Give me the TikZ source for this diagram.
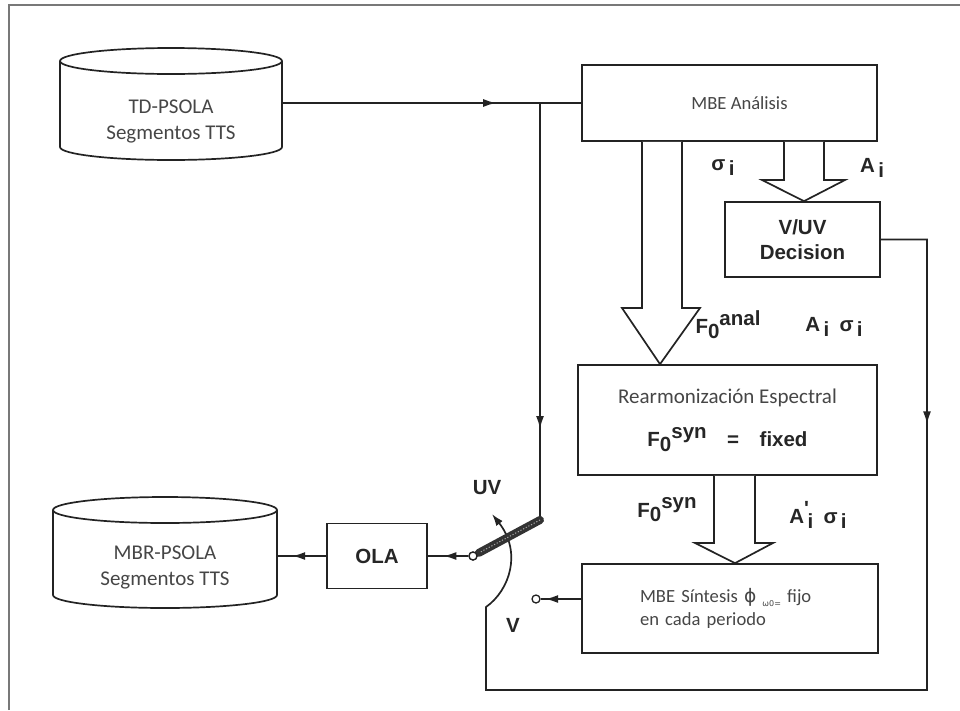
\documentclass[tikz,border=0pt]{standalone}
\usepackage{fontspec}
\setmainfont{Carlito}
\newfontfamily\labf{Liberation Sans}
\newfontfamily\symf{DejaVu Sans}
\usetikzlibrary{positioning,arrows.meta,calc,decorations.markings}
\definecolor{lnGray}{RGB}{35,35,35}
\definecolor{txGray}{RGB}{70,70,70}
\definecolor{frGray}{RGB}{120,120,120}
\newcommand{\lo}[1]{\raisebox{-0.45ex}{#1}}
\newcommand{\hi}[1]{\raisebox{0.75ex}{#1}}
% cylinder: centre x, x radius, top y, bottom y, y radius
\newcommand{\dbcyl}[5]{%
  \draw[wire] (#1,#3) ellipse[x radius=#2pt, y radius=#5pt];
  \draw[wire] (#1-#2,#3) -- (#1-#2,#4) arc[start angle=180, end angle=360, x radius=#2pt, y radius=#5pt] -- (#1+#2,#3);
}

\begin{document}
\begin{tikzpicture}[
    x=1pt, y=-1pt,
    wire/.style={draw=lnGray, line width=1.7pt},
    box/.style={rectangle, draw=lnGray, line width=1.7pt, fill=white, text=txGray, inner sep=2pt},
    dbtext/.style={text=txGray, align=center, font=\fontsize{21}{26}\selectfont},
    lab/.style={font=\labf\bfseries\fontsize{20.5}{23}\selectfont, text=black!85, inner sep=1pt},
    hollow/.style={draw=lnGray, line width=1.7pt, fill=white, line join=miter},
    pin/.style={circle, draw=lnGray, line width=1.3pt, fill=white, inner sep=0pt, minimum size=8pt},
    midarrow/.style={postaction={decorate}, decoration={markings, mark=at position #1 with {\arrow{Latex[length=13pt,width=8pt]}}}}
]
  \useasboundingbox (0,0) rectangle (960,710);
  \draw[draw=frGray, line width=2pt] (9,710) -- (9,5) -- (960,5);

  % data bases
  \dbcyl{171}{111}{61}{147}{13}
  \dbcyl{165}{112}{510}{595}{13}
  \node[dbtext, minimum width=222pt] (tdp) at (171,121) {TD-PSOLA\\Segmentos TTS};
  \node[dbtext, minimum width=224pt] (mbr) at (165,567) {MBR-PSOLA\\Segmentos TTS};

  % blocks
  \node[box, minimum width=295pt, minimum height=76pt, font=\fontsize{18.6}{22}\selectfont] (mbe) at (729.5,103) {\hspace*{20pt}MBE Análisis};
  \node[box, minimum width=155pt, minimum height=75pt, align=center, text=black!85, font=\labf\bfseries\fontsize{20.5}{25}\selectfont] (vuv) at (802.5,239.5) {V/UV\\Decision};
  \node[box, minimum width=299pt, minimum height=110pt, align=center, font=\fontsize{21}{25}\selectfont] (rearm) at (727.5,420)
    {Rearmonización Espectral\\[18pt]{\labf\bfseries\fontsize{20.5}{23}\selectfont\color{black!85}F\lo{0}\hi{syn}\quad=\quad fixed}};
  \node[box, minimum height=89pt, inner xsep=58pt, text width=180pt, align=left, font=\fontsize{18.6}{23}\selectfont] (sint) at (730,608.5)
    {MBE Síntesis {\symf ϕ} \lo{\fontsize{8}{8}\selectfont\symf ω0=} fijo\\en cada periodo};
  \node[box, minimum width=100pt, minimum height=65pt, text=black!85, font=\labf\bfseries\fontsize{20.5}{23}\selectfont] (ola) at (377,556) {OLA};

  % switch
  \node[pin] (sw) at (473,556) {};
  \node[pin] (vpin) at (536,599) {};
  \coordinate (split) at (540,0 |- mbe.west);
  \coordinate (bartop) at (540,520);
  \coordinate (uvtip) at (492,514);

  % connectors
  \draw[wire, midarrow=214pt] (tdp.east |- mbe.west) -- (mbe.west);
  \draw[wire, midarrow=326pt] (split) -- (bartop);
  \draw[wire, midarrow=231pt, -{Latex[length=12pt,width=8pt]}] (vuv.east) -- (927,0 |- vuv.east) -- (927,690) -- (486,690) -- (486,607)
    .. controls (510,590) and (522,552) .. (uvtip);
  \draw[line width=8pt, draw=black!80, line cap=round, shorten >=2pt] (bartop) -- (sw);
  \draw[line width=1pt, draw=black!35, dash pattern=on 1.2pt off 1.8pt, shorten >=3pt] (bartop) -- (sw);
  \node[pin] at (sw) {};
  \draw[wire, midarrow=25pt] (sw.west) -- (sw.west -| ola.east);
  \draw[wire, midarrow=34pt] (ola.west) -- (ola.west -| mbr.east);
  \draw[wire, midarrow=36pt] (vpin.east -| sint.west) -- (vpin.east);

  % hollow arrows
  \draw[hollow] (642,0 |- mbe.south) -- (642,308) -- (622,308) -- (660,0 |- rearm.north) -- (700,308) -- (682,308) -- (682,0 |- mbe.south);
  \draw[hollow] (784,0 |- mbe.south) -- (784,180) -- (762,180) -- (804,0 |- vuv.north) -- (845,180) -- (824,180) -- (824,0 |- mbe.south);
  \draw[hollow] (714,0 |- rearm.south) -- (714,543) -- (695,543) -- (735,0 |- sint.north) -- (773,543) -- (755,543) -- (755,0 |- rearm.south);

  % labels
  \node[lab] (sgA) at (723,168) {σ\,\lo{i}};
  \node[lab] (aA) at (872,168) {A\,\lo{i}};
  \node[lab] (fanal) at (728,325) {F\lo{0}\hi{anal}};
  \node[lab] (asig1) at (834,327) {A\,\lo{i}\enspace σ\,\lo{i}};
  \node[lab] (fsyn) at (667,510) {F\lo{0}\hi{syn}};
  \node[lab] (asig2) at (818,515) {A\rlap{\hi{'}}\,\lo{i}\enspace σ\,\lo{i}};
  \node[lab] (uvl) at (487,488) {UV};
  \node[lab] (vl) at (513,625) {V};
\end{tikzpicture}
\end{document}
